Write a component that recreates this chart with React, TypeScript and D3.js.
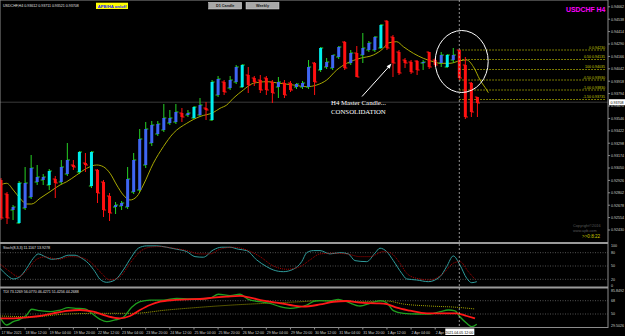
import React, { useEffect, useRef } from "react";
import * as d3 from "d3";

// ---- price bars (H4), bar 0 = 17 Mar 2021 20:00
const barOpen = [
  0.9293, 0.9279, 0.9263, 0.925, 0.9265, 0.9276, 0.9291, 0.9293, 0.9288, 0.9294,
  0.9291, 0.9299, 0.9308, 0.9301, 0.931, 0.9287, 0.9303, 0.9291, 0.9277, 0.9266,
  0.9267, 0.9266, 0.9281, 0.9283, 0.9308, 0.933, 0.9339, 0.9343, 0.935, 0.9351,
  0.936, 0.9358, 0.9355, 0.9358, 0.9365, 0.9353, 0.9378, 0.9391, 0.9385, 0.9391,
  0.9386, 0.9398, 0.9395, 0.9393, 0.9395, 0.9391, 0.9386, 0.939, 0.939, 0.9386,
  0.9386, 0.9386, 0.941, 0.9403, 0.9406, 0.9405, 0.9416, 0.9431, 0.941, 0.942,
  0.9418, 0.9423, 0.9423, 0.9425, 0.9452, 0.9436, 0.9421, 0.9413, 0.9411, 0.9412,
  0.941, 0.9421, 0.9413, 0.941, 0.9406, 0.9413, 0.9423, 0.9408, 0.939, 0.9376,
];
const barHigh = [
  0.9295, 0.9281, 0.9268, 0.9292, 0.9306, 0.9318, 0.9308, 0.9299, 0.9304, 0.9297,
  0.9313, 0.933, 0.9313, 0.9322, 0.932, 0.9322, 0.9304, 0.9293, 0.928, 0.9271,
  0.9272, 0.9306, 0.932, 0.9344, 0.9351, 0.9352, 0.9352, 0.9369, 0.9363, 0.9369,
  0.9365, 0.9363, 0.9367, 0.9375, 0.9371, 0.9393, 0.9397, 0.9393, 0.9397, 0.9408,
  0.9409, 0.9406, 0.9397, 0.9398, 0.9397, 0.9393, 0.9396, 0.9393, 0.9392, 0.939,
  0.9392, 0.9413, 0.9411, 0.9426, 0.9415, 0.9418, 0.9427, 0.9432, 0.9423, 0.9427,
  0.944, 0.9432, 0.9437, 0.9449, 0.9453, 0.9438, 0.9423, 0.9415, 0.9413, 0.9413,
  0.9413, 0.9421, 0.9415, 0.9421, 0.9419, 0.9425, 0.9423, 0.9416, 0.9391, 0.9376,
];
const barLow = [
  0.9253, 0.9249, 0.9253, 0.9249, 0.9263, 0.9274, 0.9288, 0.9288, 0.9283, 0.9275,
  0.9289, 0.9297, 0.9303, 0.9299, 0.9301, 0.9285, 0.927, 0.9256, 0.9252, 0.9259,
  0.9263, 0.9264, 0.9279, 0.9281, 0.9305, 0.9327, 0.9337, 0.9341, 0.9348, 0.9349,
  0.9351, 0.9356, 0.9354, 0.9357, 0.9353, 0.9352, 0.9376, 0.9378, 0.9383, 0.9389,
  0.9385, 0.938, 0.9387, 0.938, 0.9378, 0.937, 0.9375, 0.9375, 0.9381, 0.9384,
  0.9384, 0.9384, 0.9378, 0.9401, 0.9404, 0.9403, 0.9414, 0.9403, 0.9408, 0.9396,
  0.941, 0.9421, 0.9421, 0.9424, 0.9423, 0.9396, 0.9398, 0.9405, 0.9399, 0.9398,
  0.9403, 0.9404, 0.9406, 0.9406, 0.9405, 0.941, 0.9393, 0.9354, 0.9356, 0.9356,
];
const barClose = [
  0.9255, 0.9255, 0.9266, 0.929, 0.929, 0.9305, 0.9296, 0.9296, 0.9302, 0.929,
  0.9306, 0.9313, 0.9306, 0.9321, 0.9308, 0.9321, 0.928, 0.9263, 0.926, 0.9268,
  0.927, 0.9294, 0.9313, 0.9334, 0.9344, 0.9348, 0.9349, 0.9355, 0.9355, 0.9361,
  0.9356, 0.936, 0.9366, 0.9368, 0.9363, 0.9391, 0.9394, 0.9381, 0.9393, 0.9406,
  0.9408, 0.9388, 0.9391, 0.9383, 0.9383, 0.938, 0.9391, 0.9378, 0.9383, 0.9389,
  0.939, 0.9406, 0.9391, 0.9425, 0.9411, 0.9418, 0.9426, 0.9405, 0.942, 0.9396,
  0.9425, 0.943, 0.9436, 0.9448, 0.9425, 0.941, 0.94, 0.941, 0.9401, 0.9403,
  0.9411, 0.9406, 0.9408, 0.9418, 0.9418, 0.9418, 0.9395, 0.9356, 0.9361, 0.937,
];
// body colour class per bar: b blue, c aqua, r red
const bodyType = ("rrbcbbbbcr" + "bbrcrcrrrb" + "bbbbbbbbbb" + "rbcbrcbrbb" +
  "crrrrrbrrb" + "bbrcbbbrbr" + "bbbcrrrrrr" + "brrbcbrrrr").split("");

// moving average [bar, price]
const maLine = [
  [-0.17, 0.9288], [0.95, 0.92897], [2.04, 0.9283], [3.15, 0.92747], [4.26, 0.9269], [5.09, 0.9269],
  [6.47, 0.92747], [8.13, 0.92813], [9.78, 0.9288], [10.9, 0.92913], [12.55, 0.9298], [14.21, 0.93047],
  [15.87, 0.9308], [16.97, 0.93063], [18.08, 0.92997], [19.19, 0.9288], [20.28, 0.9278], [21.39, 0.9273],
  [22.5, 0.92763], [23.6, 0.9288], [25.26, 0.93097], [26.92, 0.93263], [28.57, 0.93397], [30.8, 0.93497],
  [33.0, 0.93565], [35.2, 0.93605], [36.32, 0.93647], [37.43, 0.9368], [38.52, 0.93747], [40.18, 0.9383],
  [41.84, 0.93897], [44.06, 0.93913], [46.27, 0.93897], [48.47, 0.9388], [50.7, 0.93863], [52.35, 0.9388],
  [54.01, 0.9393], [55.67, 0.9403], [57.33, 0.94097], [59.54, 0.94147], [61.74, 0.9418], [63.4, 0.94247],
  [64.2, 0.943], [65.62, 0.94313], [66.72, 0.94263], [68.38, 0.94197], [70.03, 0.94147], [71.7, 0.94113],
  [72.8, 0.94097], [74.45, 0.94097], [76.12, 0.94123], [77.23, 0.9413], [78.33, 0.94063], [79.44, 0.9393],
  [80.55, 0.9383], [80.82, 0.93803],
];

const priceTicks = [0.94662, 0.94538, 0.94414, 0.9429, 0.94166, 0.94042, 0.93918, 0.93794, 0.9367, 0.93546,
  0.93422, 0.93298, 0.93174, 0.9305, 0.92926, 0.92802, 0.92678, 0.92554, 0.9243];
const lastPrice = 0.93708;

const fibNames = ["0", "0.50", "100", "-0.50", "-1.00", "-1.50"];
const fibPrices = [0.9423, 0.94135, 0.94035, 0.9393, 0.9383, 0.93735];

const timeLabels = ["17 Mar 2021", "18 Mar 12:00", "19 Mar 04:00", "19 Mar 20:00", "22 Mar 12:00",
  "23 Mar 04:00", "23 Mar 20:00", "24 Mar 12:00", "25 Mar 04:00", "25 Mar 20:00", "26 Mar 12:00",
  "29 Mar 04:00", "29 Mar 20:00", "30 Mar 12:00", "31 Mar 04:00", "31 Mar 20:00", "1 Apr 12:00",
  "2 Apr 04:00", "2 Apr"];
const cursorBar = 76;
const cursorLabel = "2021.04.05 12:00";

// Stochastic(8,3,3) [bar, value]
const stochMain = [
  [-0.17, 44.9], [0.95, 29.8], [2.04, 20.8], [3.15, 26], [4.26, 44.9], [5.36, 67.5], [6.19, 77.2], [7.3, 71.1],
  [8.4, 65.2], [9.78, 67.5], [11.16, 74.3], [12.27, 74.3], [13.38, 67.5], [14.48, 56.2], [15.59, 37.2],
  [16.42, 20.1], [17.53, 13.3], [18.9, 18.5], [20.28, 41.1], [21.67, 71.1], [22.77, 90.1], [24.16, 95.3],
  [25.82, 95.3], [27.48, 92.3], [29.14, 87.8], [30.8, 82.4], [32.17, 71.1], [33.55, 69.8], [35.2, 86.2],
  [36.6, 92.3], [37.98, 92.3], [39.35, 87.8], [40.75, 84.7], [42.4, 63.7], [44.06, 48.5], [45.16, 41.1],
  [46.82, 37.2], [48.47, 42.7], [49.87, 59.8], [50.7, 80.1], [51.8, 84.7], [52.9, 84.7], [54.56, 77.2],
  [56.2, 80.1], [57.6, 77.2], [58.7, 62.1], [60.65, 59.8], [62.0, 78.8], [62.85, 90.1], [63.96, 82.4],
  [65.06, 62.1], [66.45, 33.6], [67.28, 20.8], [68.94, 18.5], [70.86, 14.7], [72.8, 26], [73.9, 48.5],
  [75.0, 72.7], [76.1, 52.4], [77.23, 22.3], [78.06, 12.4], [78.9, 14.7],
];
const stochSignal = [
  [-0.17, 54.6], [1.49, 37.2], [2.87, 26], [4.26, 39.5], [5.92, 65.2], [7.3, 70.4], [9.5, 65.2], [11.44, 71.1],
  [13.1, 69.8], [14.76, 59.8], [16.42, 37.2], [18.08, 18.5], [19.73, 26], [21.39, 56.2], [23.05, 82.4],
  [24.7, 92.3], [26.37, 93.7], [28.57, 90.1], [30.8, 84.7], [33.0, 77.2], [34.66, 77.2], [36.3, 87.8],
  [38.5, 92.3], [40.75, 86.2], [42.95, 71.1], [45.16, 50.1], [47.38, 42.7], [49.59, 48.5], [51.24, 63.7],
  [52.9, 77.2], [55.1, 78.8], [57.33, 77.2], [59.54, 71.1], [61.2, 71.1], [63.4, 82.4], [64.5, 80.1],
  [66.17, 56.2], [67.28, 33.6], [68.94, 22.3], [71.15, 18.5], [73.35, 33.6], [75.0, 56.2], [76.1, 59.8],
  [77.5, 37.2], [78.6, 20.1],
];
const stochLevels = [80, 50, 20];
const stochLabels = [100, 80, 50, 20, 0];

// TDI [bar, value]
const tdiPrice = [
  [-0.17, 45.5], [0.95, 35.1], [2.04, 39.6], [3.15, 42.8], [4.26, 48.6], [5.09, 56.4], [6.47, 54.5], [8.13, 53.1],
  [9.78, 55.4], [11.16, 58.5], [12.55, 57.7], [13.93, 56.8], [15.04, 50.9], [16.42, 42.8], [17.53, 39.6],
  [18.9, 41.9], [20.28, 45.5], [21.67, 59.1], [23.05, 66.6], [24.71, 68.9], [26.92, 68.9], [29.14, 71.2],
  [31.35, 70.3], [33.0, 70.3], [34.66, 71.6], [36.04, 76.7], [37.98, 74.8], [39.64, 76.7], [41.0, 69.9],
  [42.95, 66.6], [44.6, 64.5], [46.27, 59.9], [47.93, 57.7], [49.3, 59.1], [50.7, 62.2], [52.07, 67.6],
  [52.9, 68.0], [54.56, 67.6], [55.94, 69.9], [57.33, 66.6], [59.54, 60.8], [61.2, 64.5], [62.85, 68.0],
  [63.96, 65.3], [65.06, 54.5], [66.72, 50.9], [68.94, 50.0], [71.15, 50.0], [72.8, 53.1], [74.18, 55.4],
  [75.3, 54.1], [76.1, 46.3], [77.23, 37.4], [78.06, 32.8], [78.9, 36.1],
];
const tdiSignal = [
  [-0.17, 44.2], [2.04, 44.2], [4.26, 45.5], [6.47, 47.3], [8.67, 50.9], [10.9, 54.1], [13.1, 55.4],
  [15.31, 53.1], [17.53, 47.3], [19.73, 44.2], [21.39, 47.3], [23.05, 55.4], [24.71, 62.2], [26.37, 66.6],
  [28.57, 68.9], [30.8, 69.9], [33.0, 70.3], [35.2, 72.1], [37.43, 73.4], [39.64, 74.4], [41.3, 72.1],
  [43.5, 68.0], [45.72, 65.3], [47.93, 62.2], [50.1, 59.9], [52.9, 62.9], [55.1, 66.6], [57.33, 67.6],
  [59.54, 65.3], [62.3, 64.5], [63.96, 63.5], [65.62, 58.5], [67.8, 54.5], [70.6, 50.9], [73.35, 50.9],
  [75.57, 50.9], [77.23, 47.3], [78.6, 44.2],
];
const tdiBase = [
  [-0.17, 47.3], [5.3, 46.3], [10.9, 50], [16.42, 50.9], [21.9, 50.9], [27.48, 55.4], [33.0, 59.1],
  [38.5, 62.2], [44.06, 64.5], [49.6, 66.6], [52.9, 68.0], [56.2, 68.0], [59.54, 66.6], [63.96, 67.6],
  [66.72, 63.5], [71.15, 60.8], [75.57, 59.1], [78.6, 56.8],
];
const tdiLevels = [68, 50];

const W = 625;
const H = 336;

const App = () => {
  const ref = useRef(null);

  useEffect(() => {
    const svg = d3.select(ref.current);
    svg.selectAll("*").remove();
    const font = "'Liberation Sans', Arial, sans-serif";

    const axisX = 608;
    const mainBottom = 242;
    const x = d3.scaleLinear().domain([0, 79]).range([1, 477.4]);
    const y = d3.scaleLinear().domain([0.9231, 0.9473]).range([mainBottom, 0]);
    const ys = d3.scaleLinear().domain([0, 100]).range([288.2, 243.8]);
    const yt = d3.scaleLinear().domain([32, 68]).range([327.3, 300.7]);

    svg.append("rect").attr("width", W).attr("height", H).attr("fill", "#000");

    const defs = svg.append("defs");
    defs.append("clipPath").attr("id", "cMain").append("rect").attr("x", 0).attr("y", 0).attr("width", axisX).attr("height", mainBottom);
    defs.append("clipPath").attr("id", "cSto").append("rect").attr("x", 0).attr("y", 244).attr("width", axisX).attr("height", 43);
    defs.append("clipPath").attr("id", "cTdi").append("rect").attr("x", 0).attr("y", 288.5).attr("width", axisX).attr("height", 39);

    const main = svg.append("g").attr("clip-path", "url(#cMain)");

    // bid line
    main.append("line").attr("x1", 0).attr("x2", axisX).attr("y1", y(lastPrice)).attr("y2", y(lastPrice))
      .attr("stroke", "#3a3a3a").attr("stroke-width", 1);

    // fibonacci levels
    fibPrices.forEach((p, i) => {
      main.append("line").attr("x1", x(cursorBar)).attr("x2", 605).attr("y1", y(p)).attr("y2", y(p))
        .attr("stroke", "#c8c800").attr("stroke-width", 0.8).attr("stroke-dasharray", "1.5,1.5");
      main.append("text").attr("x", 605).attr("y", y(p) - 1.5).attr("text-anchor", "end")
        .attr("fill", "#c8c800").attr("font-size", 3.6).attr("font-family", font)
        .text(`${fibNames[i]}    ${p.toFixed(5)}`);
    });

    // moving average
    main.append("path").datum(maLine)
      .attr("d", d3.line().x((d) => x(d[0])).y((d) => y(d[1])).curve(d3.curveMonotoneX))
      .attr("fill", "none").attr("stroke", "#a8a800").attr("stroke-width", 1);

    // bars
    const bodyColor = { b: "#3f66f2", c: "#00eeee", r: "#ff1010" };
    barOpen.forEach((o, i) => {
      const c = barClose[i];
      const up = c >= o;
      const wick = up ? "#26d026" : "#ff1010";
      const cx = x(i);
      main.append("line").attr("x1", cx).attr("x2", cx).attr("y1", y(barHigh[i])).attr("y2", y(barLow[i]))
        .attr("stroke", wick).attr("stroke-width", 1);
      main.append("line").attr("x1", cx - 2.6).attr("x2", cx).attr("y1", y(o)).attr("y2", y(o))
        .attr("stroke", wick).attr("stroke-width", 1);
      main.append("line").attr("x1", cx).attr("x2", cx + 2.6).attr("y1", y(c)).attr("y2", y(c))
        .attr("stroke", wick).attr("stroke-width", 1);
      const top = Math.min(y(o), y(c));
      const h = Math.max(1.2, Math.abs(y(o) - y(c)));
      main.append("rect").attr("x", cx - 1.5).attr("y", top).attr("width", 3).attr("height", h)
        .attr("fill", bodyColor[bodyType[i]]);
    });

    // annotation
    main.append("ellipse").attr("cx", 461.7).attr("cy", 61.5).attr("rx", 26.5).attr("ry", 31)
      .attr("fill", "none").attr("stroke", "#fff").attr("stroke-width", 1);
    main.append("line").attr("x1", 362).attr("y1", 96.5).attr("x2", 389.5).attr("y2", 66)
      .attr("stroke", "#fff").attr("stroke-width", 1);
    main.append("path").attr("d", "M391.5,63.5 L386.6,66.2 L389.6,68.8 Z").attr("fill", "#fff");
    main.append("text").attr("x", 331).attr("y", 105).attr("fill", "#fff")
      .attr("font-family", "'Liberation Serif', 'Times New Roman', serif").attr("font-size", 6.8)
      .text("H4 Master Candle...");
    main.append("text").attr("x", 331).attr("y", 114).attr("fill", "#fff")
      .attr("font-family", "'Liberation Serif', 'Times New Roman', serif").attr("font-size", 6.8)
      .text("CONSOLIDATION");

    // header
    svg.append("text").attr("x", 3).attr("y", 7).attr("fill", "#e0e0e0").attr("font-size", 3.6)
      .attr("font-family", font).text("USDCHF,H4  0.93612 0.93711 0.93521 0.93708");
    svg.append("rect").attr("x", 96).attr("y", 2.7).attr("width", 32).attr("height", 6.3).attr("fill", "#ffff00");
    svg.append("text").attr("x", 112).attr("y", 7.6).attr("text-anchor", "middle").attr("fill", "#1a1aff")
      .attr("font-size", 4.2).attr("font-weight", "bold").attr("font-family", font).text("APB/HA on/off");
    [["D1 Candle", 208.7], ["Weekly", 246]].forEach(([t, bx]) => {
      svg.append("rect").attr("x", bx).attr("y", 2.3).attr("width", 33).attr("height", 6.7)
        .attr("fill", "#a8a8a8").attr("stroke", "#d8d8d8").attr("stroke-width", 0.5);
      svg.append("text").attr("x", bx + 16.5).attr("y", 7.1).attr("text-anchor", "middle").attr("fill", "#1a1a1a")
        .attr("font-size", 3.8).attr("font-weight", "bold").attr("font-family", font).text(t);
    });
    svg.append("text").attr("x", 566).attr("y", 12.3).attr("fill", "#ff00ff").attr("font-size", 6.9)
      .attr("font-weight", "bold").attr("font-family", font).text("USDCHF H4");

    // copyright / timer
    svg.append("text").attr("x", 573).attr("y", 227).attr("fill", "#5a5a5a").attr("font-size", 3.8)
      .attr("font-family", font).text("Copyright\u00a92016");
    svg.append("text").attr("x", 573).attr("y", 231.5).attr("fill", "#5a5a5a").attr("font-size", 3.8)
      .attr("font-family", font).text("www.apb.com");
    svg.append("text").attr("x", 582).attr("y", 237.5).attr("fill", "#c8c800").attr("font-size", 4.6)
      .attr("font-family", font).text(">>0:8:22");

    // stochastic pane
    const sto = svg.append("g").attr("clip-path", "url(#cSto)");
    stochLevels.forEach((v) => {
      sto.append("line").attr("x1", 0).attr("x2", axisX).attr("y1", ys(v)).attr("y2", ys(v))
        .attr("stroke", "#8a8a8a").attr("stroke-width", 0.6).attr("stroke-dasharray", "1,1.5");
    });
    sto.append("path").datum(stochMain)
      .attr("d", d3.line().x((d) => x(d[0])).y((d) => ys(d[1])).curve(d3.curveMonotoneX))
      .attr("fill", "none").attr("stroke", "#2f9c9c").attr("stroke-width", 1);
    sto.append("path").datum(stochSignal)
      .attr("d", d3.line().x((d) => x(d[0])).y((d) => ys(d[1])).curve(d3.curveMonotoneX))
      .attr("fill", "none").attr("stroke", "#c00000").attr("stroke-width", 0.9).attr("stroke-dasharray", "1,1");
    svg.append("text").attr("x", 3).attr("y", 249).attr("fill", "#e0e0e0").attr("font-size", 3.6)
      .attr("font-family", font).text("Stoch(8,3,3) 11.1167 13.9278");
    stochLabels.forEach((v) => {
      svg.append("text").attr("x", 611).attr("y", Math.min(Math.max(ys(v) + 1.3, 247), 286.5)).attr("fill", "#d0d0d0")
        .attr("font-size", 3.6).attr("font-family", font).text(v);
    });

    // TDI pane
    const tdi = svg.append("g").attr("clip-path", "url(#cTdi)");
    tdiLevels.forEach((v) => {
      tdi.append("line").attr("x1", 0).attr("x2", axisX).attr("y1", yt(v)).attr("y2", yt(v))
        .attr("stroke", "#8a8a8a").attr("stroke-width", 0.6).attr("stroke-dasharray", "1,1.5");
    });
    tdi.append("path").datum(tdiBase)
      .attr("d", d3.line().x((d) => x(d[0])).y((d) => yt(d[1])).curve(d3.curveMonotoneX))
      .attr("fill", "none").attr("stroke", "#b4b400").attr("stroke-width", 0.9).attr("stroke-dasharray", "1,1");
    tdi.append("path").datum(tdiPrice)
      .attr("d", d3.line().x((d) => x(d[0])).y((d) => yt(d[1])).curve(d3.curveMonotoneX))
      .attr("fill", "none").attr("stroke", "#1fa01f").attr("stroke-width", 1.3);
    tdi.append("path").datum(tdiSignal)
      .attr("d", d3.line().x((d) => x(d[0])).y((d) => yt(d[1])).curve(d3.curveMonotoneX))
      .attr("fill", "none").attr("stroke", "#ff1818").attr("stroke-width", 1.8);
    svg.append("text").attr("x", 3).attr("y", 293).attr("fill", "#e0e0e0").attr("font-size", 3.6)
      .attr("font-family", font).text("TDI 73.1269 56.0770 46.4271 51.4256 44.2688");
    [["85.8492", 292], ["68", yt(68) + 1.3], ["50", yt(50) + 1.3], ["29.5026", 327]].forEach(([t, ty]) => {
      svg.append("text").attr("x", 611).attr("y", ty).attr("fill", "#d0d0d0").attr("font-size", 3.6)
        .attr("font-family", font).text(t);
    });

    // frames
    svg.append("rect").attr("x", 0).attr("y", 0).attr("width", axisX).attr("height", 327.5)
      .attr("fill", "none").attr("stroke", "#8c8c8c").attr("stroke-width", 1);
    [243, 287.5].forEach((yy) => {
      svg.append("rect").attr("x", 0).attr("y", yy - 1).attr("width", axisX).attr("height", 2).attr("fill", "#9a9a9a");
    });

    // price axis
    priceTicks.forEach((p) => {
      svg.append("line").attr("x1", axisX).attr("x2", axisX + 2).attr("y1", y(p)).attr("y2", y(p)).attr("stroke", "#8c8c8c");
      svg.append("text").attr("x", 611).attr("y", y(p) + 1.3).attr("fill", "#d0d0d0").attr("font-size", 3.6)
        .attr("font-family", font).text(p.toFixed(5));
    });
    svg.append("rect").attr("x", 609).attr("y", y(lastPrice) - 3).attr("width", 16).attr("height", 6).attr("fill", "#fff");
    svg.append("text").attr("x", 610.5).attr("y", y(lastPrice) + 1.3).attr("fill", "#000").attr("font-size", 3.6)
      .attr("font-family", font).text(lastPrice.toFixed(5));

    // cursor
    svg.append("line").attr("x1", x(cursorBar)).attr("x2", x(cursorBar)).attr("y1", 0).attr("y2", 328)
      .attr("stroke", "#b8b8b8").attr("stroke-width", 0.8).attr("stroke-dasharray", "2,2");

    // time axis
    timeLabels.forEach((t, i) => {
      const tx = x(i * 4);
      svg.append("line").attr("x1", tx).attr("x2", tx).attr("y1", 327.5).attr("y2", 329.5).attr("stroke", "#8c8c8c");
      svg.append("text").attr("x", tx + 0.5).attr("y", 333.5).attr("fill", "#d0d0d0").attr("font-size", 3.6)
        .attr("font-family", font).text(t);
    });
    svg.append("rect").attr("x", x(cursorBar) - 14).attr("y", 328.5).attr("width", 29).attr("height", 6.5).attr("fill", "#fff");
    svg.append("text").attr("x", x(cursorBar)).attr("y", 333.5).attr("text-anchor", "middle").attr("fill", "#000")
      .attr("font-size", 3.6).attr("font-family", font).text(cursorLabel);
  }, []);

  return <svg ref={ref} width={W} height={H} style={{ position: "fixed", left: 0, top: 0, display: "block" }} />;
};

export default App;
